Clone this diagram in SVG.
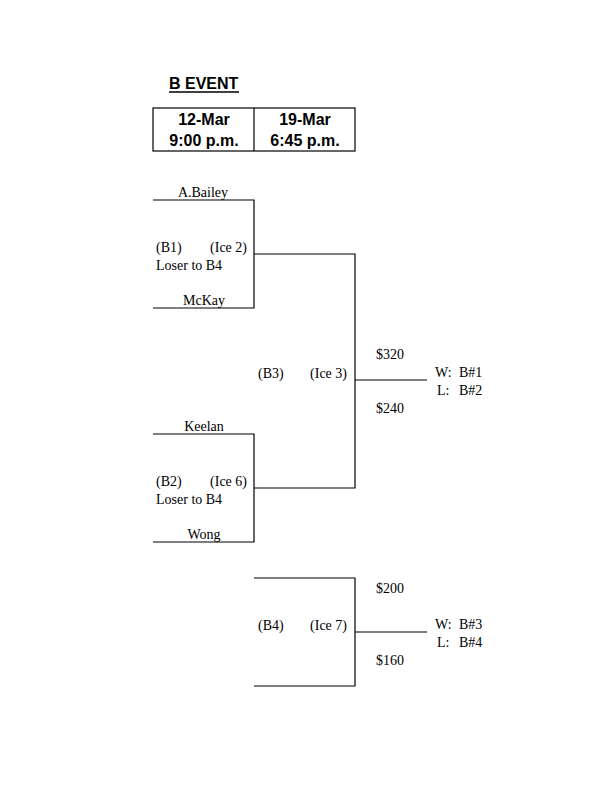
<svg xmlns="http://www.w3.org/2000/svg" width="612" height="792" viewBox="0 0 612 792">
<style>
.t{font-family:"Liberation Serif","Times New Roman",serif;font-size:14px;fill:#000}
.h{font-family:"Liberation Sans",Arial,sans-serif;font-size:16px;font-weight:bold;fill:#000}
.m{text-anchor:middle}
.e{text-anchor:end}
.ln{stroke:#000;stroke-width:1.2;fill:none}
</style>
<rect width="612" height="792" fill="#fff"/>
<g id="title">
<text class="h" x="169" y="89">B EVENT</text>
<line x1="169" y1="92" x2="239" y2="92" stroke="#000" stroke-width="1.4"/>
</g>
<g id="header">
<rect class="ln" x="153" y="108" width="202" height="43"/>
<line class="ln" x1="254" y1="108" x2="254" y2="151"/>
<text class="h m" x="204" y="125">12-Mar</text>
<text class="h m" x="204" y="146">9:00 p.m.</text>
<text class="h m" x="305" y="125">19-Mar</text>
<text class="h m" x="305" y="146">6:45 p.m.</text>
</g>
<g id="connectors">
<path class="ln" d="M153 200H254V308H153"/>
<path class="ln" d="M153 434H254V542H153"/>
<path class="ln" d="M254 254H355V488H254"/>
<path class="ln" d="M355 380H427"/>
<path class="ln" d="M254 578H355V686H254"/>
<path class="ln" d="M355 632H427"/>
</g>
<g id="B1">
<text class="t m" x="203" y="197">A.Bailey</text>
<text class="t" x="156" y="252">(B1)</text>
<text class="t e" x="247" y="252">(Ice 2)</text>
<text class="t" x="156" y="270">Loser to B4</text>
<text class="t m" x="204" y="305">McKay</text>
</g>
<g id="B2">
<text class="t m" x="204" y="431">Keelan</text>
<text class="t" x="156" y="486">(B2)</text>
<text class="t e" x="247" y="486">(Ice 6)</text>
<text class="t" x="156" y="504">Loser to B4</text>
<text class="t m" x="204" y="539">Wong</text>
</g>
<g id="B3">
<text class="t" x="258" y="378">(B3)</text>
<text class="t e" x="347" y="378">(Ice 3)</text>
<text class="t" x="376" y="359">$320</text>
<text class="t" x="376" y="413">$240</text>
<text class="t" x="435" y="377">W:</text><text class="t" x="459" y="377">B#1</text>
<text class="t" x="437" y="395">L:</text><text class="t" x="459" y="395">B#2</text>
</g>
<g id="B4">
<text class="t" x="258" y="630">(B4)</text>
<text class="t e" x="347" y="630">(Ice 7)</text>
<text class="t" x="376" y="593">$200</text>
<text class="t" x="376" y="665">$160</text>
<text class="t" x="435" y="629">W:</text><text class="t" x="459" y="629">B#3</text>
<text class="t" x="437" y="647">L:</text><text class="t" x="459" y="647">B#4</text>
</g>
</svg>
